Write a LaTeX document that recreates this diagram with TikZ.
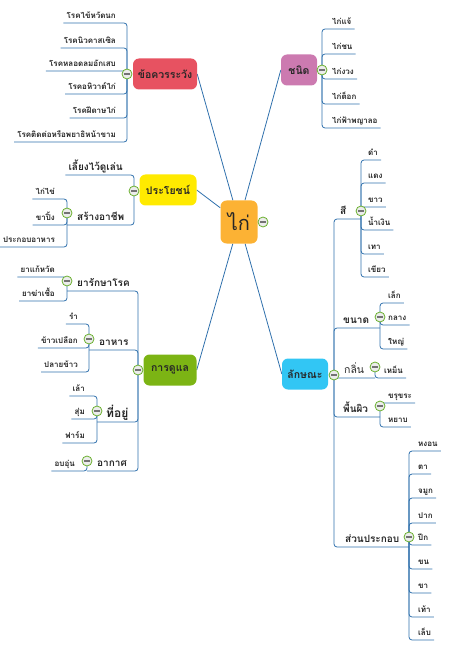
\documentclass[tikz,border=0pt]{standalone}
\usepackage{fontspec}
\setmainfont{Loma}[Script=Thai]
\usepackage{tikz}
\usetikzlibrary{shapes}
\definecolor{linkblue}{RGB}{47,112,172}
\definecolor{kaiorange}{RGB}{252,178,52}
\definecolor{warnred}{RGB}{231,82,97}
\definecolor{benyellow}{RGB}{255,234,0}
\definecolor{caregreen}{RGB}{124,180,20}
\definecolor{kindpink}{RGB}{204,122,176}
\definecolor{traitblue}{RGB}{50,198,244}
\definecolor{togglegreen}{RGB}{106,176,46}
\pgfdeclarelayer{back}
\pgfsetlayers{back,main}
\tikzstyle{spoke} = [draw=linkblue, line width=0.8pt]
\tikzstyle{branch} = [draw=linkblue, line width=0.8pt, rounded corners=3pt]
\tikzstyle{topic} = [rounded corners=6pt, minimum height=31pt, inner sep=2pt, text=black!85, font=\fontsize{10.5}{12}\selectfont\bfseries]
\tikzstyle{sub} = [inner xsep=3pt, inner ysep=2pt, text height=8pt, text depth=2.5pt, text=black!85, font=\fontsize{10}{12}\selectfont\bfseries]
\tikzstyle{leaf} = [inner xsep=3pt, inner ysep=2pt, text height=7pt, text depth=2pt, text=black!85, font=\fontsize{8}{9}\selectfont\bfseries]
\tikzstyle{toggle} = [circle, draw=togglegreen, fill=gray!15, line width=0.8pt, minimum size=10pt, inner sep=0pt,
  path picture={\draw[black!55, line width=1.1pt] ([xshift=2.2pt]path picture bounding box.west) -- ([xshift=-2.2pt]path picture bounding box.east);}]

\begin{document}
\begin{tikzpicture}[x=1pt,y=-1pt]
\useasboundingbox (0,0) rectangle (451,660);

\node[topic, fill=kaiorange, minimum width=37pt, minimum height=43pt, font=\fontsize{20}{22}\selectfont] (kai) at (239,222) {ไก่};
\node[toggle] (tkai) at (263,222) {};

\node[topic, fill=warnred, minimum width=64pt] (warn) at (165,74) {ข้อควรระวัง};
\node[toggle] (twarn) at (127,74) {};
\node[leaf, anchor=south east] (w1) at (119,23) {โรคไข้หวัดนก};
\node[leaf, anchor=south east] (w2) at (119,48) {โรคนิวคาสเซิล};
\node[leaf, anchor=south east] (w3) at (119,71) {โรคหลอดลมอักเสบ};
\node[leaf, anchor=south east] (w4) at (119,94) {โรคอหิวาต์ไก่};
\node[leaf, anchor=south east] (w5) at (119,118) {โรคฝีดาษไก่};
\node[leaf, anchor=south east] (w6) at (119,142) {โรคติดต่อหรือพยาธิหน้าขาม};

\node[topic, fill=benyellow, minimum width=57pt] (ben) at (168,190) {ประโยชน์};
\node[toggle] (tben) at (134,191) {};
\node[leaf, anchor=south east, font=\fontsize{10}{12}\selectfont\bfseries] (pet) at (126,175) {เลี้ยงไว้ดูเล่น};
\node[sub, anchor=south west] (job) at (74,225) {สร้างอาชีพ};
\node[toggle] (tjob) at (67,213) {};
\node[leaf, anchor=south east] (j1) at (58,199) {ไก่ไข่};
\node[leaf, anchor=south east] (j2) at (58,225) {ขาปิ้ง};
\node[leaf, anchor=south east] (j3) at (58,247) {ประกอบอาหาร};

\node[topic, fill=caregreen, minimum width=53pt] (care) at (170,370) {การดูแล};
\node[toggle] (tcare) at (138,370) {};
\node[sub, anchor=south west] (med) at (74,291) {ยารักษาโรค};
\node[toggle] (tmed) at (67,281) {};
\node[leaf, anchor=south east] (m1) at (58,277) {ยาแก้หวัด};
\node[leaf, anchor=south east] (m2) at (58,301) {ยาฆ่าเชื้อ};
\node[sub, anchor=south west] (food) at (96,350) {อาหาร};
\node[toggle] (tfood) at (89,339) {};
\node[leaf, anchor=south east] (f1) at (81,324) {รำ};
\node[leaf, anchor=south east] (f2) at (81,348) {ข้าวเปลือก};
\node[leaf, anchor=south east] (f3) at (81,372) {ปลายข้าว};
\node[sub, anchor=south west, font=\fontsize{12}{14}\selectfont\bfseries] (home) at (103,422) {ที่อยู่};
\node[toggle] (thome) at (97,411) {};
\node[leaf, anchor=south east] (h1) at (88,396) {เล้า};
\node[leaf, anchor=south east] (h2) at (88,419) {สุ่ม};
\node[leaf, anchor=south east] (h3) at (88,443) {ฟาร์ม};
\node[sub, anchor=south west] (air) at (94,471) {อากาศ};
\node[toggle] (tair) at (87,461) {};
\node[leaf, anchor=south east] (a1) at (78,471) {อบอุ่น};

\node[topic, fill=kindpink, minimum width=36pt] (kind) at (299,70) {ชนิด};
\node[toggle] (tkind) at (322,70) {};
\node[leaf, anchor=south west] (k1) at (329,29) {ไก่แจ้};
\node[leaf, anchor=south west] (k2) at (329,54) {ไก่ชน};
\node[leaf, anchor=south west] (k3) at (329,79) {ไก่งวง};
\node[leaf, anchor=south west] (k4) at (329,104) {ไก่ต็อก};
\node[leaf, anchor=south west] (k5) at (329,128) {ไก่ฟ้าพญาลอ};

\node[topic, fill=traitblue, minimum width=46pt] (trait) at (305,374) {ลักษณะ};
\node[toggle] (ttrait) at (334,375) {};
\node[sub, anchor=south west] (color) at (337,219) {สี};
\node[toggle] (tcolor) at (361,211) {};
\node[leaf, anchor=south west] (c1) at (365,160) {ดำ};
\node[leaf, anchor=south west] (c2) at (365,183) {แดง};
\node[leaf, anchor=south west] (c3) at (365,207) {ขาว};
\node[leaf, anchor=south west] (c4) at (365,230) {น้ำเงิน};
\node[leaf, anchor=south west] (c5) at (365,254) {เทา};
\node[leaf, anchor=south west] (c6) at (365,277) {เขียว};
\node[sub, anchor=south west] (size) at (340,328) {ขนาด};
\node[toggle] (tsize) at (380,317) {};
\node[leaf, anchor=south west] (s1) at (385,303) {เล็ก};
\node[leaf, anchor=south west] (s2) at (385,325) {กลาง};
\node[leaf, anchor=south west] (s3) at (385,349) {ใหญ่};
\node[sub, anchor=south west, font=\fontsize{10.5}{12}\selectfont] (smell) at (341,378) {กลิ่น};
\node[toggle] (tsmell) at (375,367) {};
\node[leaf, anchor=south west] (o1) at (381,378) {เหม็น};
\node[sub, anchor=south west] (surf) at (340,417) {พื้นผิว};
\node[toggle] (tsurf) at (380,406) {};
\node[leaf, anchor=south west] (u1) at (385,403) {ขรุขระ};
\node[leaf, anchor=south west] (u2) at (385,427) {หยาบ};
\node[sub, anchor=south west] (part) at (342,547) {ส่วนประกอบ};
\node[toggle] (tpart) at (409,537) {};
\node[leaf, anchor=south west] (p1) at (415,451) {หงอน};
\node[leaf, anchor=south west] (p2) at (415,474) {ตา};
\node[leaf, anchor=south west] (p3) at (415,498) {จมูก};
\node[leaf, anchor=south west] (p4) at (415,523) {ปาก};
\node[leaf, anchor=south west] (p5) at (415,545) {ปีก};
\node[leaf, anchor=south west] (p6) at (415,569) {ขน};
\node[leaf, anchor=south west] (p7) at (415,593) {ขา};
\node[leaf, anchor=south west] (p8) at (415,617) {เท้า};
\node[leaf, anchor=south west] (p9) at (415,640) {เล็บ};

\begin{pgfonlayer}{back}
\draw[spoke] (kai) -- (warn.east);
\draw[spoke] (kai) -- (ben.east);
\draw[spoke] (kai) -- (care.east);
\draw[spoke] (kai) -- (kind.west);
\draw[spoke] (kai) -- (trait.west);

\draw[branch] (twarn.center) |- (w1.south west);
\draw[branch] (twarn.center) |- (w2.south west);
\draw[branch] (twarn.center) |- (w3.south west);
\draw[branch] (twarn.center) |- (w4.south west);
\draw[branch] (twarn.center) |- (w5.south west);
\draw[branch] (twarn.center) |- (w6.south west);

\draw[branch] (tben.center) |- (pet.south west);
\draw[branch] (tben.center) |- (tjob |- job.south);
\draw[branch] (tjob.center) |- (j1.south west);
\draw[branch] (tjob.center) |- (j2.south west);
\draw[branch] (tjob.center) |- (j3.south west);

\draw[branch] (tcare.center) |- (tmed |- med.south);
\draw[branch] (tcare.center) |- (tfood |- food.south);
\draw[branch] (tcare.center) |- (thome |- home.south);
\draw[branch] (tcare.center) |- (tair |- air.south);
\draw[branch] (tmed.center) |- (m1.south west);
\draw[branch] (tmed.center) |- (m2.south west);
\draw[branch] (tfood.center) |- (f1.south west);
\draw[branch] (tfood.center) |- (f2.south west);
\draw[branch] (tfood.center) |- (f3.south west);
\draw[branch] (thome.center) |- (h1.south west);
\draw[branch] (thome.center) |- (h2.south west);
\draw[branch] (thome.center) |- (h3.south west);
\draw[branch] (tair.center) |- (a1.south west);

\draw[branch] (tkind.center) |- (k1.south east);
\draw[branch] (tkind.center) |- (k2.south east);
\draw[branch] (tkind.center) |- (k3.south east);
\draw[branch] (tkind.center) |- (k4.south east);
\draw[branch] (tkind.center) |- (k5.south east);

\draw[branch] (ttrait.center) |- (tcolor |- color.south);
\draw[branch] (ttrait.center) |- (tsize |- size.south);
\draw[branch] (ttrait.center) |- (tsmell |- smell.south);
\draw[branch] (ttrait.center) |- (tsurf |- surf.south);
\draw[branch] (ttrait.center) |- (tpart |- part.south);
\draw[branch] (tcolor.center) |- (c1.south east);
\draw[branch] (tcolor.center) |- (c2.south east);
\draw[branch] (tcolor.center) |- (c3.south east);
\draw[branch] (tcolor.center) |- (c4.south east);
\draw[branch] (tcolor.center) |- (c5.south east);
\draw[branch] (tcolor.center) |- (c6.south east);
\draw[branch] (tsize.center) |- (s1.south east);
\draw[branch] (tsize.center) |- (s2.south east);
\draw[branch] (tsize.center) |- (s3.south east);
\draw[branch] (tsmell.center) |- (o1.south east);
\draw[branch] (tsurf.center) |- (u1.south east);
\draw[branch] (tsurf.center) |- (u2.south east);
\draw[branch] (tpart.center) |- (p1.south east);
\draw[branch] (tpart.center) |- (p2.south east);
\draw[branch] (tpart.center) |- (p3.south east);
\draw[branch] (tpart.center) |- (p4.south east);
\draw[branch] (tpart.center) |- (p5.south east);
\draw[branch] (tpart.center) |- (p6.south east);
\draw[branch] (tpart.center) |- (p7.south east);
\draw[branch] (tpart.center) |- (p8.south east);
\draw[branch] (tpart.center) |- (p9.south east);
\end{pgfonlayer}
\end{tikzpicture}
\end{document}
